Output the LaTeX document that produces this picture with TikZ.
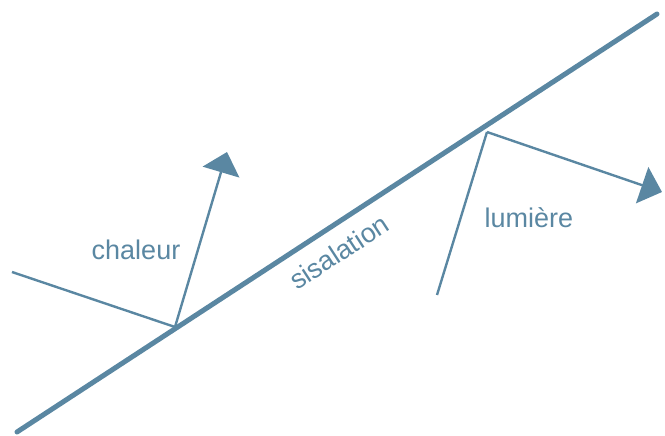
\documentclass[tikz,border=0pt]{standalone}
\usepackage{fontspec}
\setmainfont{Liberation Sans}
\usetikzlibrary{arrows.meta}
\definecolor{steel}{RGB}{90,135,162}
\tikzset{
  wall/.style={draw=steel, line width=5pt, line cap=round},
  ray/.style={draw=steel, line width=2.4pt, line join=miter},
  rayarrow/.style={ray, -{Triangle[length=21pt, width=38pt]}},
  lbl/.style={text=steel, font=\fontsize{27}{31}\selectfont, inner sep=0pt}
}
\begin{document}
\begin{tikzpicture}[x=1pt, y=-1pt]
\useasboundingbox (0,0) rectangle (665,436);
\coordinate (w1) at (17,432);
\coordinate (w2) at (657,14);
\draw[wall] (w1) -- (w2);
% chaleur
\coordinate (c0) at (12,272);
\coordinate (c1) at (175,327);
\coordinate (c2) at (227,152);
\draw[ray] (c0) -- (c1);
\draw[rayarrow] (c1) -- (c2);
% lumiere
\coordinate (l0) at (437,295);
\coordinate (l1) at (487,132);
\coordinate (l2) at (662,192);
\draw[ray] (l0) -- (l1);
\draw[rayarrow] (l1) -- (l2);
\node[lbl] (chaleur) at (136,250) {chaleur};
\node[lbl] (lumiere) at (529,218) {lumière};
\node[lbl, rotate=33.1] (isol) at (339,252) {sisalation};
\end{tikzpicture}
\end{document}
